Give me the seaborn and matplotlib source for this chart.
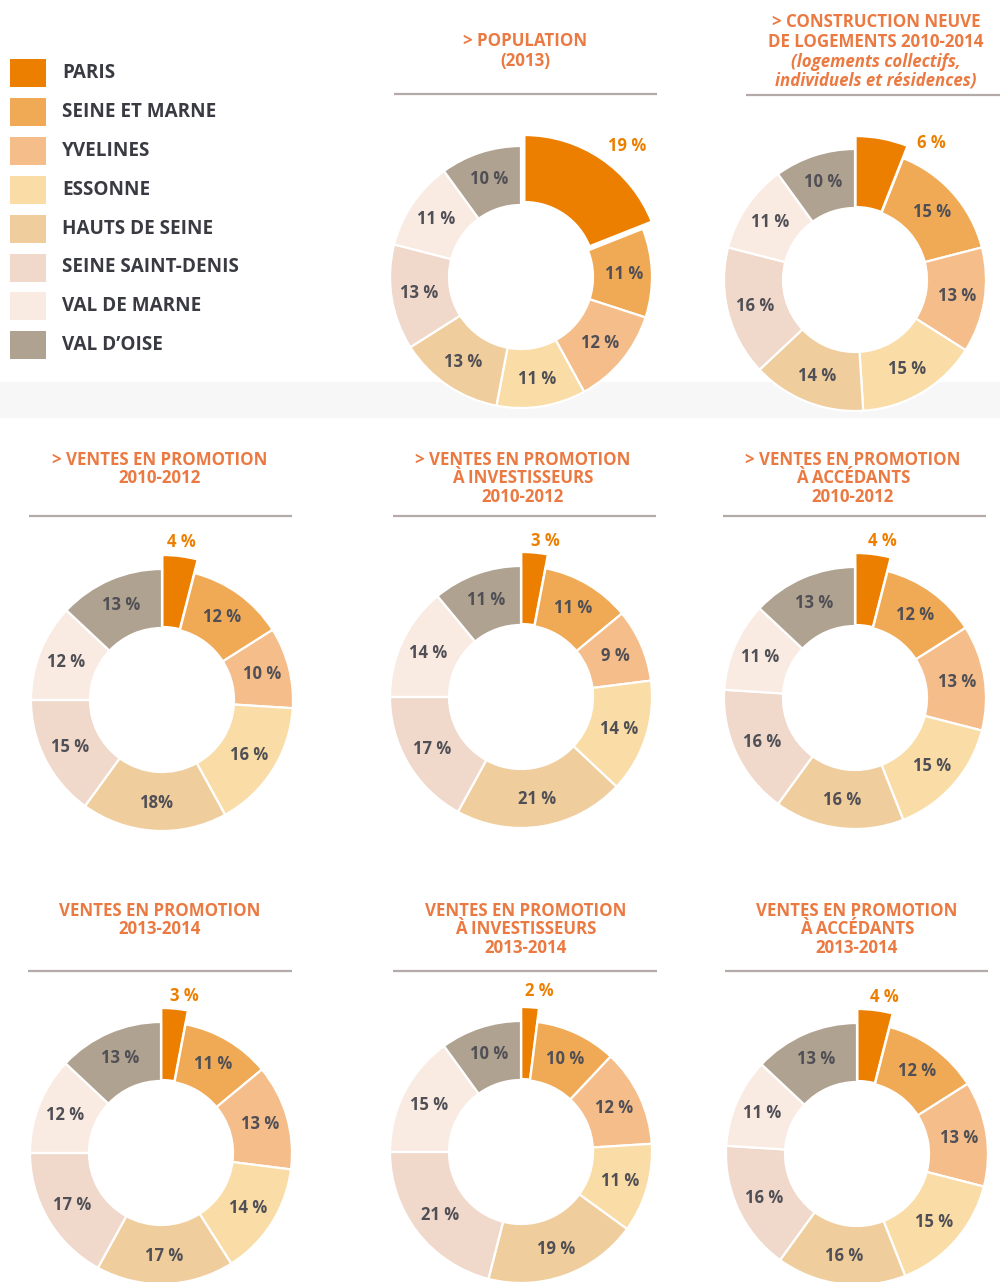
import matplotlib
matplotlib.use("Agg")
import matplotlib.pyplot as plt
from matplotlib.patches import Rectangle
import seaborn as sns
import numpy as np

# ---------------- DATA ----------------
departements = ["PARIS", "SEINE ET MARNE", "YVELINES", "ESSONNE",
                "HAUTS DE SEINE", "SEINE SAINT-DENIS", "VAL DE MARNE", "VAL D’OISE"]
couleurs_hex = ["#ED7F00", "#F0AA55", "#F5BD8A", "#FADCA6",
                "#F0CD9D", "#F0D8CA", "#F9EBE2", "#B0A290"]

population_2013 = [19, 11, 12, 11, 13, 13, 11, 10]
construction_2010_2014 = [6, 15, 13, 15, 14, 16, 11, 10]
ventes_2010_2012 = [4, 12, 10, 16, 18, 15, 12, 13]
ventes_invest_2010_2012 = [3, 11, 9, 14, 21, 17, 14, 11]
ventes_acced_2010_2012 = [4, 12, 13, 15, 16, 16, 11, 13]
ventes_2013_2014 = [3, 11, 13, 14, 17, 17, 12, 13]
ventes_invest_2013_2014 = [2, 10, 12, 11, 19, 21, 15, 10]
ventes_acced_2013_2014 = [4, 12, 13, 15, 16, 16, 11, 13]

titre_population = ["> POPULATION", "(2013)"]
titre_construction = ["> CONSTRUCTION NEUVE", "DE LOGEMENTS 2010-2014",
                      "(logements collectifs,", "individuels et résidences)"]
titre_ventes_1012 = ["> VENTES EN PROMOTION", "2010-2012"]
titre_invest_1012 = ["> VENTES EN PROMOTION", "À INVESTISSEURS", "2010-2012"]
titre_acced_1012 = ["> VENTES EN PROMOTION", "À ACCÉDANTS", "2010-2012"]
titre_ventes_1314 = ["VENTES EN PROMOTION", "2013-2014"]
titre_invest_1314 = ["VENTES EN PROMOTION", "À INVESTISSEURS", "2013-2014"]
titre_acced_1314 = ["VENTES EN PROMOTION", "À ACCÉDANTS", "2013-2014"]

# ---------------- STYLE / LAYOUT ----------------
sns.set_theme(style="white")
plt.rcParams["font.family"] = ["Open Sans", "DejaVu Sans"]
palette = sns.color_palette(couleurs_hex)

W, H = 1000, 1282
R = 131.0          # outer radius (px)
R_IN = 72.0        # inner radius (px)
LBL_R = 103.0
TITLE_COL = "#EB7A42"
PARIS_COL = "#ED7F00"
LABEL_COL = "#4F4F55"
LEGEND_COL = "#3A3A42"
SEP_COL = "#B4AAA7"

charts = [
    dict(v=population_2013, t=titre_population, italic=set(), c=(521, 277),
         tx=525, ty=[41, 61], sy=94, sx=(394, 657), pl=(106, -131), ex=6, rp=137),
    dict(v=construction_2010_2014, t=titre_construction, italic={2, 3}, c=(855, 280),
         tx=876, ty=[22, 42, 62, 81], sy=95, sx=(746, 1000), pl=(76, -137), ex=3, rp=141),
    dict(v=ventes_2010_2012, t=titre_ventes_1012, italic=set(), c=(162, 700),
         tx=160, ty=[460, 478], sy=516, sx=(29, 292), pl=(19, -158), ex=3, rp=142,
         nospace={4}),
    dict(v=ventes_invest_2010_2012, t=titre_invest_1012, italic=set(), c=(521, 697),
         tx=523, ty=[460, 478, 497], sy=516, sx=(393, 656), pl=(24, -156), ex=3, rp=142),
    dict(v=ventes_acced_2010_2012, t=titre_acced_1012, italic=set(), c=(855, 698),
         tx=853, ty=[460, 478, 497], sy=516, sx=(723, 986), pl=(27, -157), ex=3, rp=142),
    dict(v=ventes_2013_2014, t=titre_ventes_1314, italic=set(), c=(161, 1153),
         tx=160, ty=[911, 929], sy=971, sx=(28, 292), pl=(23, -157), ex=3, rp=142),
    dict(v=ventes_invest_2013_2014, t=titre_invest_1314, italic=set(), c=(521, 1152),
         tx=526, ty=[911, 929, 948], sy=971, sx=(393, 657), pl=(18, -161), ex=3, rp=142),
    dict(v=ventes_acced_2013_2014, t=titre_acced_1314, italic=set(), c=(857, 1154),
         tx=857, ty=[911, 929, 948], sy=971, sx=(725, 988), pl=(27, -157), ex=3, rp=142),
]


def Y(y):
    return H - y


fig = plt.figure(figsize=(W / 100, H / 100), dpi=100)
fig.patch.set_facecolor("white")
ax = fig.add_axes([0, 0, 1, 1])

# light grey band between top block and the rest
ax.axhspan(Y(418), Y(382), color="#F7F7F7", lw=0, zorder=0)

# legend
for i, (name, col) in enumerate(zip(departements, palette)):
    yc = 73 + i * 38.9
    ax.add_patch(Rectangle((10, Y(yc + 14)), 36, 28, facecolor=col,
                           edgecolor="none", zorder=2))
    ax.text(62, Y(yc), name, ha="left", va="center", fontsize=13.6,
            fontweight="bold", color=LEGEND_COL, zorder=3)

for ch in charts:
    vals = ch["v"]
    cx, cy = ch["c"]
    explode = [ch["ex"]] + [0] * (len(vals) - 1)
    wedges, _ = ax.pie(vals, colors=palette, startangle=90, counterclock=False,
                       radius=R, center=(cx, Y(cy)), explode=explode, frame=True,
                       wedgeprops=dict(width=R - R_IN, edgecolor="white",
                                       linewidth=1.6))
    for w in wedges:
        w.set_zorder(2)
    # highlighted Paris slice
    wedges[0].set_radius(ch["rp"])
    wedges[0].set_width(ch["rp"] - R_IN + 2)

    total = float(sum(vals))
    cum = np.cumsum([0] + list(vals))
    nospace = ch.get("nospace", set())
    for i in range(1, len(vals)):
        mid = 90 - 360.0 * (cum[i] + vals[i] / 2.0) / total
        a = np.deg2rad(mid)
        txt = f"{vals[i]}%" if i in nospace else f"{vals[i]} %"
        ax.text(cx + LBL_R * np.cos(a), Y(cy) + LBL_R * np.sin(a), txt,
                ha="center", va="center", fontsize=12, fontweight="bold",
                color=LABEL_COL, zorder=4)
    dx, dy = ch["pl"]
    ax.text(cx + dx, Y(cy + dy), f"{vals[0]} %", ha="center", va="center",
            fontsize=12, fontweight="bold", color=PARIS_COL, zorder=4)

    # titles
    for j, (line, ty) in enumerate(zip(ch["t"], ch["ty"])):
        ax.text(ch["tx"], Y(ty), line, ha="center", va="center", fontsize=12.2,
                fontweight="bold", color=TITLE_COL,
                style="italic" if j in ch["italic"] else "normal", zorder=4)
    # separator
    ax.plot(list(ch["sx"]), [Y(ch["sy"])] * 2, color=SEP_COL, lw=1.6,
            solid_capstyle="butt", zorder=3)

ax.set_xlim(0, W)
ax.set_ylim(0, H)
ax.set_aspect("equal")
ax.axis("off")

fig.savefig("out.png", dpi=100, facecolor="white")
